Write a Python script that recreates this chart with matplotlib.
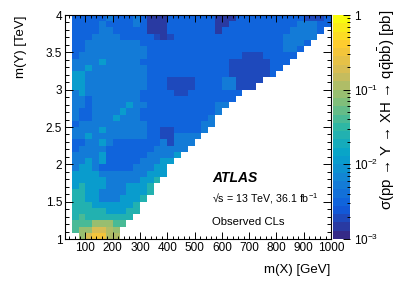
import numpy as np
import matplotlib
matplotlib.use("Agg")
import matplotlib.pyplot as plt
from matplotlib.colors import LinearSegmentedColormap, LogNorm
from matplotlib.ticker import MultipleLocator, FuncFormatter, LogLocator, FixedLocator

plt.rcParams['font.family'] = ['Liberation Sans', 'DejaVu Sans']
plt.rcParams['mathtext.fontset'] = 'custom'
plt.rcParams['mathtext.rm'] = 'Liberation Sans'
plt.rcParams['mathtext.it'] = 'Liberation Sans:italic'
plt.rcParams['mathtext.bf'] = 'Liberation Sans:bold'

# binning: m(X) in GeV, m(Y) in TeV
mx_lo, mx_hi, mx_nbins = 25, 1000, 39
my_lo, my_hi, my_nbins = 1.0, 4.0, 36

# observed limit map, one string per m(Y) bin (top row first), one char per m(X) bin
# '.' = no mass point
# digit d  -> log10(sigma [pb]) = -3 + 0.3*d + 0.15
# letter   -> half step: 'a' = 0.5, 'b' = 1.5, ... 'g' = 6.5
limit_rows = [
    "." "111112111" "21000" "1111111" "000" "1111111" "111aaa1",
    "." "111121111" "21000" "1111111" "001" "1111111" "1122211",
    "." "111122111" "11000" "1111111" "011" "1111111" "122221",
    "." "111222211" "111a0" "a111111" "111" "1111111" "22222",
    "." "112222222" "21111" "1111111" "111" "1111111" "2221",
    "." "112222222" "22111" "1111111" "111" "1111111" "221",
    "." "122222222" "22111" "1111111" "111" "1aaa111" "11",
    "." "222232222" "21111" "1111111" "11a" "aaaaa11" "1",
    "." "223222222" "22111" "1111111" "11a" "aaaaa11",
    "." "332222222" "22111" "1111111" "11a" "aaaaa1",
    "." "332222222" "22111" "aaaa111" "122" "aaaa",
    "." "332222222" "22111" "aaaa111" "122" "aaa",
    "." "232222222" "21111" "1aa1111" "111" "1",
    "." "221222222" "21111" "1111111" "111",
    "." "221222223" "22111" "1111111" "22",
    "." "211222232" "21111" "1111111" "2",
    "." "211222322" "21111" "1111112",
    "." "122222222" "22111" "1111122",
    "." "222232222" "2211a" "a11112",
    "." "223222222" "2211a" "a2222",
    "." "112232111" "11112" "a222",
    "." "122221111" "11122" "222",
    "." "222231111" "11222" "23",
    "." "223231111" "12223" "3",
    "." "233211111" "22233",
    "." "333322222" "22333",
    "." "333332222" "2334",
    "." "343332223" "334",
    "." "443322223" "334",
    "." "443322233" "34",
    "." "444333333" "4",
    "." "444443334" "4",
    "." "454444444",
    "." "55566655",
    "." "56677g6",
    "." ".6788gg",
]

# ROOT kBird palette stops
bird_r = [0.2082, 0.0592, 0.0780, 0.0232, 0.1802, 0.5301, 0.8186, 0.9956, 0.9764]
bird_g = [0.1664, 0.3599, 0.5041, 0.6419, 0.7178, 0.7492, 0.7328, 0.7862, 0.9832]
bird_b = [0.5293, 0.8684, 0.8385, 0.7914, 0.6425, 0.4662, 0.3499, 0.1968, 0.0539]
n_contours = 27

z_min, z_max = 1e-3, 1.0
x_major = [100, 200, 300, 400, 500, 600, 700, 800, 900, 1000]
z_ticks = [1e-3, 1e-2, 1e-1, 1]
z_ticklabels = [r'$10^{-3}$', r'$10^{-2}$', r'$10^{-1}$', '1']


def level(ch):
    if ch.isdigit():
        return int(ch)
    return ord(ch) - ord('a') + 0.5


# ---- build map
grid = np.full((my_nbins, mx_nbins), np.nan)
for i, s in enumerate(limit_rows[::-1]):
    for j, ch in enumerate(s[:mx_nbins]):
        if ch != '.':
            grid[i, j] = 10 ** (-3 + 0.3 * level(ch) + 0.15)
x_edges = np.linspace(mx_lo, mx_hi, mx_nbins + 1)
y_edges = np.linspace(my_lo, my_hi, my_nbins + 1)

cmap = LinearSegmentedColormap.from_list('bird', list(zip(bird_r, bird_g, bird_b)), N=n_contours)
norm = LogNorm(vmin=z_min, vmax=z_max)

W, H = 399, 286
fig = plt.figure(figsize=(W / 100, H / 100), dpi=100)
ax = fig.add_axes([65 / W, 1 - 239 / H, 266 / W, 224 / H])
cax = fig.add_axes([333 / W, 1 - 239 / H, 17 / W, 224 / H])

mesh = ax.pcolormesh(x_edges, y_edges, grid, cmap=cmap, norm=norm, edgecolors='none', linewidth=0)

ax.set_xlim(mx_lo, mx_hi)
ax.set_ylim(my_lo, my_hi)
ax.xaxis.set_major_locator(FixedLocator(x_major))
ax.xaxis.set_minor_locator(MultipleLocator(20))
ax.yaxis.set_major_locator(MultipleLocator(0.5))
ax.yaxis.set_minor_locator(MultipleLocator(0.1))
ax.yaxis.set_major_formatter(FuncFormatter(lambda v, p: '%g' % v))
ax.tick_params(which='both', direction='in', top=True, right=True, labelsize=8.5, colors='black', width=0.7)
ax.tick_params(axis='y', which='major', length=5.8, pad=2)
ax.tick_params(axis='y', which='minor', length=2.9)
ax.tick_params(axis='x', which='major', length=4.8, pad=2)
ax.tick_params(axis='x', which='minor', length=2.4)
for sp in ax.spines.values():
    sp.set_linewidth(0.8)

cb = fig.colorbar(mesh, cax=cax)
cb.outline.set_visible(False)
cax.yaxis.set_ticks_position('right')
cax.set_yticks(z_ticks)
cax.set_yticklabels(z_ticklabels)
cax.yaxis.set_minor_locator(LogLocator(base=10, subs=np.arange(2, 10)))
cax.tick_params(which='both', direction='in', labelsize=8.5, width=0.7, pad=3)
cax.tick_params(which='major', length=5)
cax.tick_params(which='minor', length=2.5)

fig.text(21 / W, 1 - 15 / H, 'm(Y) [TeV]', rotation=90, ha='center', va='top', fontsize=9.5)
fig.text(330 / W, 1 - 270 / H, 'm(X) [GeV]', ha='right', va='center', fontsize=9.5)
fig.text(387 / W, 1 - 10 / H, 'σ(pp → Y → XH → ' + r'$\mathrm{q\bar{q}b\bar{b}}$' + ') [pb]',
         rotation=90, ha='center', va='top', fontsize=10.8)

ax.text(0.553, 0.272, 'ATLAS', transform=ax.transAxes, fontsize=10, fontweight='bold',
        fontstyle='italic', va='center')
ax.text(0.553, 0.179, '√s = 13 TeV, 36.1 fb' + r'$^{-1}$', transform=ax.transAxes,
        fontsize=7.7, va='center')
ax.text(0.553, 0.076, 'Observed CLs', transform=ax.transAxes, fontsize=8.2, va='center')

fig.savefig('out.png', dpi=100)
